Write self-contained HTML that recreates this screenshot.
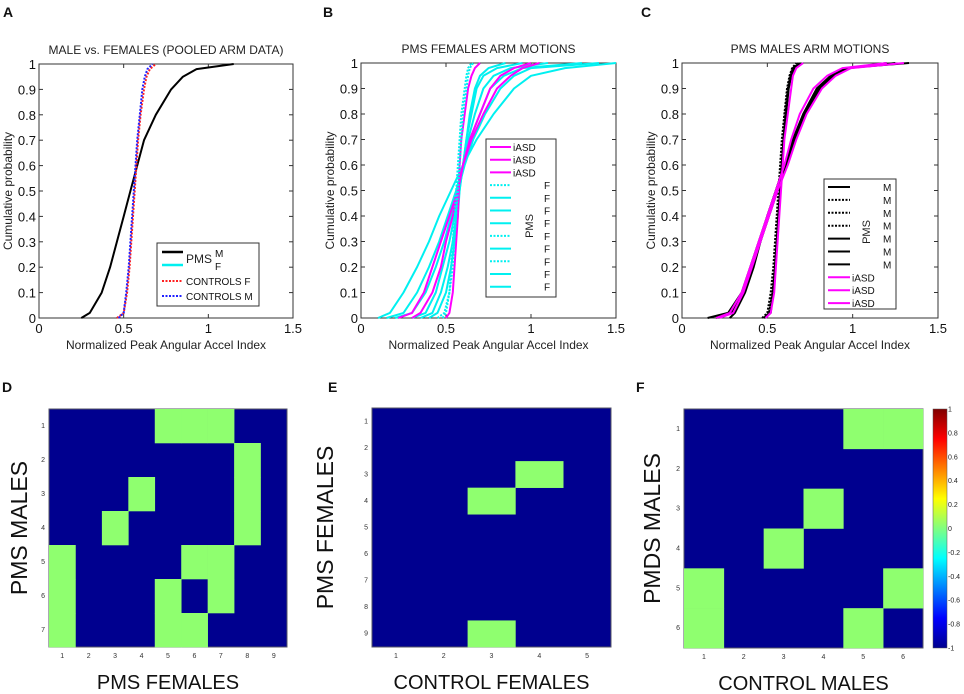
<!DOCTYPE html>
<html><head><meta charset="utf-8"><style>
body{margin:0;background:#fff;}
svg{display:block;font-family:"Liberation Sans",sans-serif;}
.t{font-size:13px;fill:#111}
.tl{font-size:11.5px;fill:#111}
.lab{font-size:12px;fill:#222}
.pl{font-size:14px;font-weight:bold;fill:#111}
.big{font-size:23px;fill:#111}
.sm{font-size:7px;fill:#333}
</style></head><body>
<svg id="s" width="964" height="694"></svg>
<script>
// ---- CDF data: x values at these cumulative probabilities ----
const probs=[0,0.02,0.1,0.2,0.3,0.4,0.5,0.6,0.7,0.8,0.9,0.95,0.98,1];
const xTicks=[0,0.5,1,1.5];
const xTickLabels=["0","0.5","1","1.5"];
const yTicks=[0,0.1,0.2,0.3,0.4,0.5,0.6,0.7,0.8,0.9,1];
const yTickLabels=["0","0.1","0.2","0.3","0.4","0.5","0.6","0.7","0.8","0.9","1"];
// Panel A
const aPmsM=[0.25,0.3,0.37,0.42,0.46,0.5,0.54,0.58,0.62,0.69,0.78,0.85,0.93,1.15];
const aCtrlF=[0.46,0.5,0.52,0.535,0.545,0.555,0.565,0.575,0.585,0.6,0.62,0.635,0.655,0.69];
const aCtrlM=[0.47,0.5,0.515,0.53,0.54,0.55,0.56,0.57,0.58,0.595,0.61,0.625,0.64,0.67];
// Panel B
const bSeries=[
 {c:"#00f0f0",d:1,v:[0.1,0.17,0.25,0.33,0.4,0.46,0.53,0.6,0.68,0.78,0.9,1.0,1.2,1.5]},
 {c:"#00f0f0",d:0,v:[0.15,0.25,0.33,0.4,0.46,0.51,0.56,0.6,0.64,0.7,0.76,0.84,0.95,1.3]},
 {c:"#00f0f0",d:0,v:[0.2,0.3,0.38,0.44,0.49,0.53,0.57,0.61,0.66,0.73,0.82,0.9,1.0,1.4]},
 {c:"#00f0f0",d:0,v:[0.3,0.38,0.44,0.48,0.52,0.55,0.57,0.6,0.63,0.67,0.72,0.78,0.88,1.1]},
 {c:"#00f0f0",d:0,v:[0.35,0.42,0.47,0.51,0.54,0.56,0.58,0.6,0.62,0.65,0.68,0.72,0.8,0.95]},
 {c:"#00f0f0",d:0,v:[0.4,0.45,0.5,0.53,0.55,0.57,0.58,0.6,0.62,0.64,0.67,0.7,0.75,0.85]},
 {c:"#ff00ff",d:0,v:[0.22,0.3,0.37,0.42,0.47,0.52,0.57,0.6,0.65,0.72,0.8,0.88,0.95,1.05]},
 {c:"#ff00ff",d:0,v:[0.3,0.35,0.42,0.47,0.5,0.54,0.57,0.6,0.64,0.7,0.76,0.82,0.9,1.0]},
 {c:"#ff00ff",d:0,v:[0.5,0.52,0.54,0.55,0.56,0.57,0.575,0.58,0.59,0.61,0.63,0.65,0.67,0.7]},
 {c:"#00f0f0",d:2,v:[0.48,0.5,0.52,0.53,0.54,0.55,0.56,0.57,0.58,0.59,0.61,0.62,0.63,0.65]},
 {c:"#00f0f0",d:2,v:[0.45,0.49,0.52,0.54,0.55,0.56,0.57,0.58,0.59,0.6,0.62,0.63,0.64,0.66]}
];
// Panel C
const cSeries=[
 {c:"#000",d:0,v:[0.15,0.27,0.35,0.4,0.45,0.5,0.55,0.6,0.65,0.71,0.79,0.87,0.96,1.33]},
 {c:"#000",d:0,v:[0.2,0.29,0.36,0.41,0.46,0.51,0.56,0.61,0.66,0.72,0.8,0.88,0.97,1.2]},
 {c:"#000",d:0,v:[0.28,0.31,0.37,0.42,0.46,0.5,0.55,0.6,0.66,0.72,0.81,0.89,0.98,1.25]},
 {c:"#000",d:2,v:[0.48,0.51,0.53,0.54,0.55,0.56,0.57,0.58,0.59,0.6,0.62,0.63,0.65,0.68]},
 {c:"#000",d:2,v:[0.47,0.5,0.52,0.535,0.545,0.555,0.565,0.575,0.585,0.6,0.615,0.63,0.645,0.67]},
 {c:"#000",d:2,v:[0.49,0.51,0.53,0.545,0.555,0.565,0.575,0.585,0.595,0.605,0.62,0.635,0.65,0.69]},
 {c:"#000",d:0,v:[0.48,0.52,0.535,0.545,0.555,0.565,0.575,0.585,0.595,0.61,0.625,0.64,0.66,0.7]},
 {c:"#ff00ff",d:0,v:[0.2,0.28,0.35,0.4,0.45,0.5,0.55,0.6,0.64,0.69,0.77,0.85,0.94,1.2]},
 {c:"#ff00ff",d:0,v:[0.22,0.3,0.36,0.41,0.46,0.51,0.56,0.62,0.67,0.73,0.82,0.9,0.99,1.3]},
 {c:"#ff00ff",d:0,v:[0.49,0.52,0.54,0.55,0.56,0.57,0.58,0.59,0.6,0.62,0.64,0.65,0.67,0.71]}
];
// Heatmaps: green cells [row, col] 1-indexed
const dCells=[[1,5],[1,6],[1,7],[2,8],[3,4],[3,8],[4,3],[4,8],[5,1],[5,6],[5,7],[6,1],[6,5],[6,7],[7,1],[7,5],[7,6]];
const eCells=[[3,4],[4,3],[9,3]];
const fCells=[[1,5],[1,6],[3,4],[4,3],[5,1],[5,6],[6,1],[6,5]];
const cbTicks=[-1,-0.8,-0.6,-0.4,-0.2,0,0.2,0.4,0.6,0.8,1];
const cbLabels=["-1","-0.8","-0.6","-0.4","-0.2","0","0.2","0.4","0.6","0.8","1"];

const NS="http://www.w3.org/2000/svg",S=document.getElementById('s');
function E(tag,at,p,txt){const e=document.createElementNS(NS,tag);for(const k in at)e.setAttribute(k,at[k]);if(txt!=null)e.textContent=txt;(p||S).appendChild(e);return e;}

function axesPanel(L,R,T,B,name,title,series){
  const g=E('g',{});
  
  
  const sx=v=>L+v/1.5*(R-L), sy=p=>B-p*(B-T);
  E('rect',{x:L,y:T,width:R-L,height:B-T,fill:'#fff',stroke:'#333','stroke-width':1},g);
  xTicks.forEach((t,i)=>{const x=sx(t);E('line',{x1:x,x2:x,y1:B,y2:B-4,stroke:'#333'},g);E('line',{x1:x,x2:x,y1:T,y2:T+4,stroke:'#333'},g);
    const tx=E('text',{x:x,y:B+15,'text-anchor':'middle',class:'t'},g,xTickLabels[i]);});
  yTicks.forEach((t,i)=>{const y=sy(t);E('line',{x1:L,x2:L+4,y1:y,y2:y,stroke:'#333'},g);E('line',{x1:R,x2:R-4,y1:y,y2:y,stroke:'#333'},g);
    const tx=E('text',{x:L-3,y:y+5,'text-anchor':'end',class:'t'},g,yTickLabels[i]);});
  series.forEach(s=>{
    const pts=s.v.map((v,i)=>sx(v).toFixed(1)+','+sy(probs[i]).toFixed(1)).join(' ');
    const pl=E('polyline',{points:pts,fill:'none',stroke:s.c,'stroke-width':s.w||2,'stroke-dasharray':s.d===2?'2,1.5':'none','stroke-linejoin':'round'},g);
    
    
  });
  const tt=E('text',{x:(L+R)/2,y:T-10,'text-anchor':'middle',class:'lab'},g,title);
  
  const xl=E('text',{x:(L+R)/2,y:B+31,'text-anchor':'middle',class:'lab'},g,'Normalized Peak Angular Accel Index');
  
  const yl=E('text',{x:0,y:0,'text-anchor':'middle',class:'lab',transform:`translate(${L-27},${(T+B)/2}) rotate(-90)`},g,'Cumulative probability');
  
  return g;
}
function letter(x,y,t){const e=E('text',{x:x,y:y,class:'pl'},null,t);}

// Panel A
letter(3,17,'A');
axesPanel(39,293,64,318,'panel-a-chart','MALE vs. FEMALES (POOLED ARM DATA)',[
 {c:'#000',d:0,v:aPmsM},{c:'#ff2020',d:2,v:aCtrlF},{c:'#2020ff',d:2,v:aCtrlM}]);
// legend A
{const g=E('g',{});
E('rect',{x:157,y:243,width:102,height:63,fill:'#fff',stroke:'#333'},g);
E('line',{x1:162,x2:183,y1:252,y2:252,stroke:'#000','stroke-width':2.5},g);
E('line',{x1:162,x2:183,y1:265,y2:265,stroke:'#00f0f0','stroke-width':2.5},g);
E('line',{x1:162,x2:183,y1:281,y2:281,stroke:'#ff2020','stroke-width':2,'stroke-dasharray':'2,1.5'},g);
E('line',{x1:162,x2:183,y1:296,y2:296,stroke:'#2020ff','stroke-width':2,'stroke-dasharray':'2,1.5'},g);
E('text',{x:186,y:263,class:'lab',fill:'#222'},g,'PMS');
E('text',{x:215,y:257,class:'tl',style:'font-size:10px'},g,'M');
E('text',{x:215,y:270,class:'tl',style:'font-size:10px'},g,'F');
E('text',{x:186,y:285,class:'tl',style:'font-size:10px'},g,'CONTROLS F');
E('text',{x:186,y:300,class:'tl',style:'font-size:10px'},g,'CONTROLS M');}

// Panel B
letter(323,17,'B');
axesPanel(361,616,63,318,'panel-b-chart','PMS  FEMALES ARM MOTIONS',bSeries);
{const g=E('g',{});
E('rect',{x:486,y:139,width:70,height:158,fill:'#fff',stroke:'#333'},g);
const items=[['#ff00ff',0,'iASD'],['#ff00ff',0,'iASD'],['#ff00ff',0,'iASD'],['#00f0f0',2,'F'],['#00f0f0',0,'F'],['#00f0f0',0,'F'],['#00f0f0',0,'F'],['#00f0f0',2,'F'],['#00f0f0',0,'F'],['#00f0f0',2,'F'],['#00f0f0',0,'F'],['#00f0f0',0,'F']];
items.forEach((it,i)=>{const y=147+i*12.7;E('line',{x1:490,x2:511,y1:y,y2:y,stroke:it[0],'stroke-width':2,'stroke-dasharray':it[1]?'2,1.5':'none'},g);
 E('text',{x:it[2]==='F'?544:513,y:y+4,style:'font-size:10px',fill:'#111'},g,it[2]);});
E('text',{x:0,y:0,style:'font-size:11px',fill:'#222',transform:'translate(533,226) rotate(-90)','text-anchor':'middle'},g,'PMS');}

// Panel C
letter(641,17,'C');
axesPanel(682,938,63,318,'panel-c-chart','PMS  MALES ARM MOTIONS',cSeries);
{const g=E('g',{});
E('rect',{x:824,y:179,width:72,height:130,fill:'#fff',stroke:'#333'},g);
const items=[['#000',0,'M'],['#000',2,'M'],['#000',2,'M'],['#000',2,'M'],['#000',0,'M'],['#000',0,'M'],['#000',0,'M'],['#ff00ff',0,'iASD'],['#ff00ff',0,'iASD'],['#ff00ff',0,'iASD']];
items.forEach((it,i)=>{const y=187+i*12.9;E('line',{x1:828,x2:850,y1:y,y2:y,stroke:it[0],'stroke-width':2,'stroke-dasharray':it[1]?'2,1.5':'none'},g);
 E('text',{x:it[2]==='M'?883:852,y:y+4,style:'font-size:10px',fill:'#111'},g,it[2]);});
E('text',{x:0,y:0,style:'font-size:11px',fill:'#222',transform:'translate(870,232) rotate(-90)','text-anchor':'middle'},g,'PMS');}

// Heatmaps
function heat(L,R,T,B,rows,cols,cells,name,yLab,xLab,yLabX){
  const g=E('g',{});
  const cw=(R-L)/cols,ch=(B-T)/rows;
  E('rect',{x:L,y:T,width:R-L,height:B-T,fill:'#00008f',stroke:'#556'},g);
  cells.forEach(c=>{const r=E('rect',{x:L+(c[1]-1)*cw,y:T+(c[0]-1)*ch,width:cw+0.3,height:ch+0.3,fill:'#8fff6f'},g);
    });
  for(let i=1;i<=cols;i++)E('text',{x:L+(i-0.5)*cw,y:B+11,'text-anchor':'middle',class:'sm'},g,String(i));
  for(let i=1;i<=rows;i++)E('text',{x:L-4,y:T+(i-0.5)*ch+2,'text-anchor':'end',class:'sm'},g,String(i));
  const yl=E('text',{x:0,y:0,'text-anchor':'middle',class:'big',transform:`translate(${yLabX},${(T+B)/2}) rotate(-90)`},g,yLab);
  
  const xl=E('text',{x:(L+R)/2,y:B+42,'text-anchor':'middle',class:'big',style:'font-size:20px'},g,xLab);
  
}
letter(2,392,'D');letter(328,392,'E');letter(636,392,'F');
heat(49,287,409,647,7,9,dCells,'heatmap-d','PMS  MALES','PMS  FEMALES',27);
heat(372,611,408,647,9,5,eCells,'heatmap-e','PMS  FEMALES','CONTROL  FEMALES',333);
heat(684,923,409,648,6,6,fCells,'heatmap-f','PMDS  MALES','CONTROL MALES',660);
// colorbar
{const g=E('g',{});
const d=E('defs',{},g);const lg=E('linearGradient',{id:'jet',x1:0,y1:1,x2:0,y2:0},d);
[['0','#00008f'],['0.125','#0000ff'],['0.375','#00ffff'],['0.5','#80ff80'],['0.625','#ffff00'],['0.875','#ff0000'],['1','#800000']].forEach(s=>E('stop',{offset:s[0],'stop-color':s[1]},lg));
E('rect',{x:933,y:409,width:14,height:239,fill:'url(#jet)',stroke:'#555','stroke-width':0.5},g);
cbTicks.forEach((t,i)=>{const y=648-(t+1)/2*239;E('text',{x:948,y:y+2.5,style:'font-size:7px',fill:'#222'},g,cbLabels[i]);});}
</script>
</body></html>
